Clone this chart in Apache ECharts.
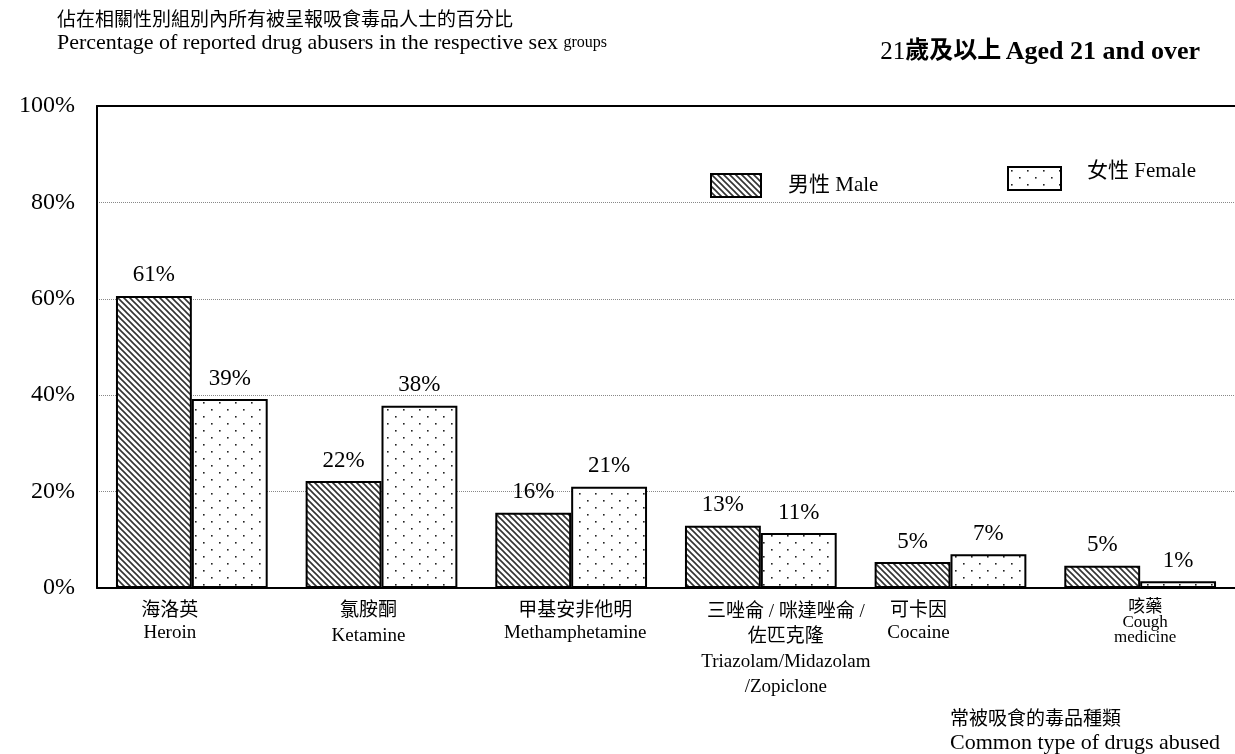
<!DOCTYPE html>
<html>
<head>
<meta charset="utf-8">
<script src="https://cdn.jsdelivr.net/npm/echarts@6/dist/echarts.min.js"></script>
<style>html,body{margin:0;padding:0;background:#fff}#c{width:1235px;height:754px}</style>
</head>
<body>
<div id="c"></div>
<script>
// ---- data ----
const catZh = ['海洛英', '氯胺酮', '甲基安非他明', '三唑侖 / 咪達唑侖 /\n佐匹克隆', '可卡因', '咳藥'];
const catEn = ['Heroin', 'Ketamine', 'Methamphetamine', 'Triazolam/Midazolam\n/Zopiclone', 'Cocaine', 'Cough\nmedicine'];
const maleVals = [60.6, 22.2, 15.6, 12.9, 5.4, 4.6];
const femaleVals = [39.2, 37.8, 21.0, 11.4, 7.0, 1.4];
const seriesNames = ['男性 Male', '女性 Female'];
const yTicks = [0, 20, 40, 60, 80, 100];

// ---- layout constants ----
const labelShift = [-22, -13, 4, 25, -32, 5];
const FONT = '"Liberation Serif", "Times New Roman", "Noto Sans CJK TC", serif';

function hatchPattern() {
  const c = document.createElement('canvas');
  c.width = 6; c.height = 6;
  const g = c.getContext('2d');
  g.fillStyle = '#fff'; g.fillRect(0, 0, 6, 6);
  g.strokeStyle = '#333'; g.lineWidth = 1.6;
  g.beginPath();
  g.moveTo(-1, -1); g.lineTo(7, 7);
  g.moveTo(-1, 5); g.lineTo(1, 7);
  g.moveTo(5, -1); g.lineTo(7, 1);
  g.stroke();
  return c;
}
function dotPattern() {
  const c = document.createElement('canvas');
  c.width = 16; c.height = 14;
  const g = c.getContext('2d');
  g.fillStyle = '#fff'; g.fillRect(0, 0, 16, 14);
  g.fillStyle = '#222';
  g.fillRect(3, 3, 1.6, 1.6);
  g.fillRect(11, 10, 1.6, 1.6);
  return c;
}
const maleFill = { image: hatchPattern(), repeat: 'repeat' };
const femaleFill = { image: dotPattern(), repeat: 'repeat' };

const rich = {};
catZh.forEach((z, i) => {
  const s = labelShift[i];
  const pad = s > 0 ? [0, 0, 0, 2 * s] : [0, -2 * s, 0, 0];
  const small = i === 5;
  rich['z' + i] = { fontFamily: FONT, fontSize: small ? 17 : 19, lineHeight: small ? 15 : (i === 3 ? 25 : 22), color: '#000', padding: pad };
  rich['e' + i] = { fontFamily: FONT, fontSize: small ? 17 : 19, lineHeight: small ? 15 : (i === 1 ? 28 : (i === 3 ? 25 : 22)), color: '#000', padding: pad };
});

const chart = echarts.init(document.getElementById('c'));
chart.setOption({
  animation: false,
  backgroundColor: '#fff',
  textStyle: { fontFamily: FONT, color: '#000' },
  title: [
    {
      left: 52, top: 5,
      text: '{z|佔在相關性別組別內所有被呈報吸食毒品人士的百分比}\n{e|Percentage of reported drug abusers in the respective sex }{s|groups}',
      textStyle: {
        fontWeight: 'normal',
        rich: {
          z: { fontFamily: FONT, fontSize: 19, lineHeight: 22, fontWeight: 'normal', color: '#000' },
          e: { fontFamily: FONT, fontSize: 22, lineHeight: 22, fontWeight: 'normal', color: '#000' },
          s: { fontFamily: FONT, fontSize: 16, lineHeight: 22, fontWeight: 'normal', color: '#000' }
        }
      }
    },
    {
      right: 30, top: 34,
      text: '{n|21}{c|歲及以上} {a|Aged 21 and over}',
      textStyle: {
        rich: {
          n: { fontFamily: FONT, fontSize: 25, fontWeight: 'normal', color: '#000' },
          c: { fontFamily: FONT, fontSize: 24, fontWeight: 'bold', color: '#000' },
          a: { fontFamily: FONT, fontSize: 26, fontWeight: 'bold', color: '#000' }
        }
      }
    },
    {
      left: 945, top: 704,
      text: '{z|常被吸食的毒品種類}\n{e|Common type of drugs abused}',
      textStyle: {
        fontWeight: 'normal',
        rich: {
          z: { fontFamily: FONT, fontSize: 19, lineHeight: 23, fontWeight: 'normal', color: '#000' },
          e: { fontFamily: FONT, fontSize: 22, lineHeight: 23, fontWeight: 'normal', color: '#000' }
        }
      }
    }
  ],
  legend: [
    {
      data: [seriesNames[0]], left: 705, top: 168, itemWidth: 50, itemHeight: 23, icon: 'rect',
      formatter: '{t|{name}}',
      textStyle: { rich: { t: { fontFamily: FONT, fontSize: 21, color: '#000', padding: [0, 0, 0, 22] } } },
      itemStyle: { borderColor: '#000', borderWidth: 2 }
    },
    {
      data: [seriesNames[1]], left: 1002, top: 156, itemWidth: 53, itemHeight: 23, icon: 'rect',
      formatter: '{t|{name}}',
      textStyle: { rich: { t: { fontFamily: FONT, fontSize: 21, color: '#000', padding: [0, 0, 14, 21] } } },
      itemStyle: { borderColor: '#000', borderWidth: 2 }
    }
  ],
  grid: { left: 97, right: 0, top: 106, bottom: 166 },
  xAxis: [
    {
      type: 'category', data: catZh.map((z, i) => i), position: 'bottom',
      axisLine: { lineStyle: { color: '#000', width: 2 } },
      axisTick: { show: false },
      axisLabel: {
        interval: 0, margin: 12, align: 'center',
        formatter: (v, i) => {
          const zs = catZh[i].split('\n').map(t => '{z' + i + '|' + t + '}');
          const es = catEn[i].split('\n').map(t => '{e' + i + '|' + t + '}');
          return zs.concat(es).join('\n');
        },
        rich: rich
      }
    },
    {
      type: 'category', data: catZh.map((z, i) => i), position: 'top',
      axisLine: { onZero: false, lineStyle: { color: '#000', width: 2 } },
      axisTick: { show: false }, axisLabel: { show: false }
    }
  ],
  yAxis: {
    type: 'value', min: yTicks[0], max: yTicks[yTicks.length - 1], interval: 20,
    axisLine: { show: true, lineStyle: { color: '#000', width: 2 } },
    axisTick: { show: false },
    axisLabel: { formatter: '{value}%', fontFamily: FONT, fontSize: 24, color: '#000', margin: 22 },
    splitLine: { lineStyle: { color: '#888', type: [1, 1], width: 1 } }
  },
  series: [
    {
      name: seriesNames[0], type: 'bar', data: maleVals, barGap: '0%', barCategoryGap: '20%',
      itemStyle: { color: maleFill, borderColor: '#000', borderWidth: 2 },
      label: { show: true, position: 'top', distance: 9, formatter: p => Math.round(p.value) + '%', fontFamily: FONT, fontSize: 23, color: '#000' }
    },
    {
      name: seriesNames[1], type: 'bar', data: femaleVals, barGap: '0%', barCategoryGap: '20%',
      itemStyle: { color: femaleFill, borderColor: '#000', borderWidth: 2 },
      label: { show: true, position: 'top', distance: 9, formatter: p => Math.round(p.value) + '%', fontFamily: FONT, fontSize: 23, color: '#000' }
    }
  ]
});
</script>
</body>
</html>
